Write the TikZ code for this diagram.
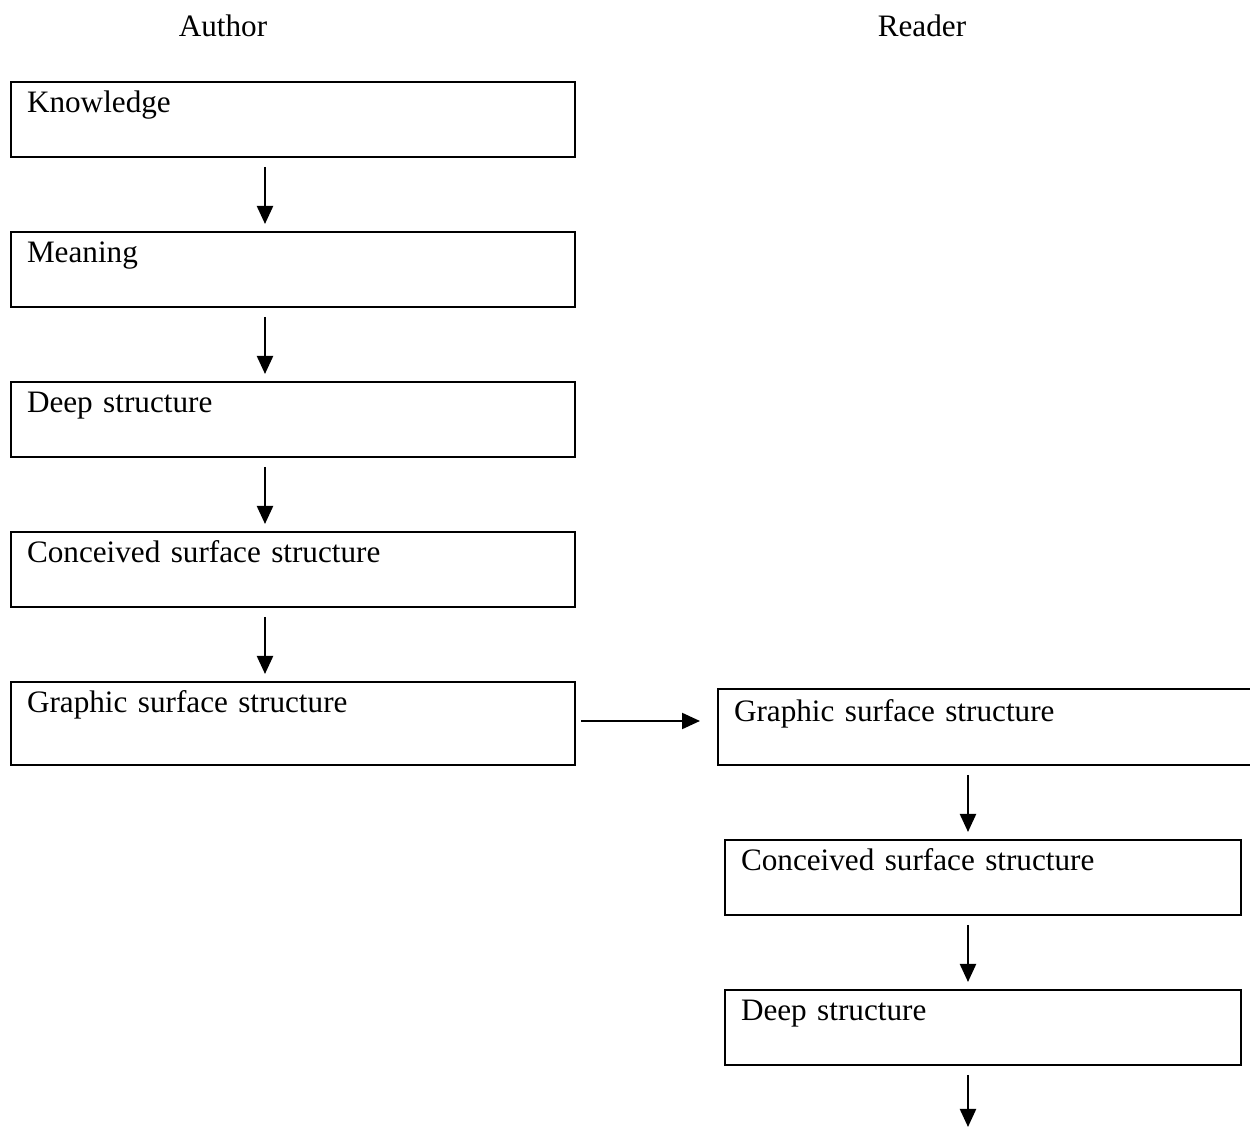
\documentclass[tikz,border=0pt]{standalone}
\usepackage{fontspec}
\setmainfont{Liberation Serif}
\usetikzlibrary{arrows.meta}
\tikzset{
  box/.style={draw, line width=1pt, anchor=north west, inner xsep=8pt, inner ysep=0pt,
    align=left, text height=15.5pt, text depth=22pt},
  flow/.style={-{Triangle[length=9pt,width=8pt]}, line width=1.1pt,
    shorten <=4.5pt, shorten >=3.5pt}
}
\begin{document}
\begin{tikzpicture}[x=0.5pt, y=-0.5pt, font=\fontsize{15.6}{19}\selectfont]
        \useasboundingbox (0,0) rectangle (1250,1128);
        % headings
        \node (author) at (223,26) {Author};
        \node (reader) at (922,26) {Reader};
        % author side
        \node[box, text width=266pt] (a-know)  at (10,81)  {Knowledge};
        \node[box, text width=266pt] (a-mean)  at (10,231) {Meaning};
        \node[box, text width=266pt] (a-deep)  at (10,381) {Deep structure};
        \node[box, text width=266pt] (a-conc)  at (10,531) {Conceived surface structure};
        \node[box, text width=266pt, text depth=26pt] (a-graph) at (10,681) {Graphic surface structure};
        % reader side
        \node[box, text width=252pt, text height=16.5pt, text depth=21.5pt] (r-graph) at (717,688) {Graphic surface structure};
        \node[box, text width=242pt] (r-conc)  at (724,839) {Conceived surface structure};
        \node[box, text width=242pt] (r-deep)  at (724,989) {Deep structure};
        % columns and rows for the arrows
        \coordinate (col-a) at (265,0);
        \coordinate (col-r) at (968,0);
        \coordinate (row-g) at (0,721);
        \coordinate (r-end) at (968,1127);
        % arrows
        \draw[flow] (a-know.south -| col-a) -- (a-mean.north -| col-a);
        \draw[flow] (a-mean.south -| col-a) -- (a-deep.north -| col-a);
        \draw[flow] (a-deep.south -| col-a) -- (a-conc.north -| col-a);
        \draw[flow] (a-conc.south -| col-a) -- (a-graph.north -| col-a);
        \draw[flow, shorten <=2.5pt, shorten >=8.5pt] (a-graph.east |- row-g) -- (r-graph.west |- row-g);
        \draw[flow] (r-graph.south -| col-r) -- (r-conc.north -| col-r);
        \draw[flow] (r-conc.south -| col-r) -- (r-deep.north -| col-r);
        \draw[flow, shorten >=0pt] (r-deep.south -| col-r) -- (r-end);
\end{tikzpicture}
\end{document}
